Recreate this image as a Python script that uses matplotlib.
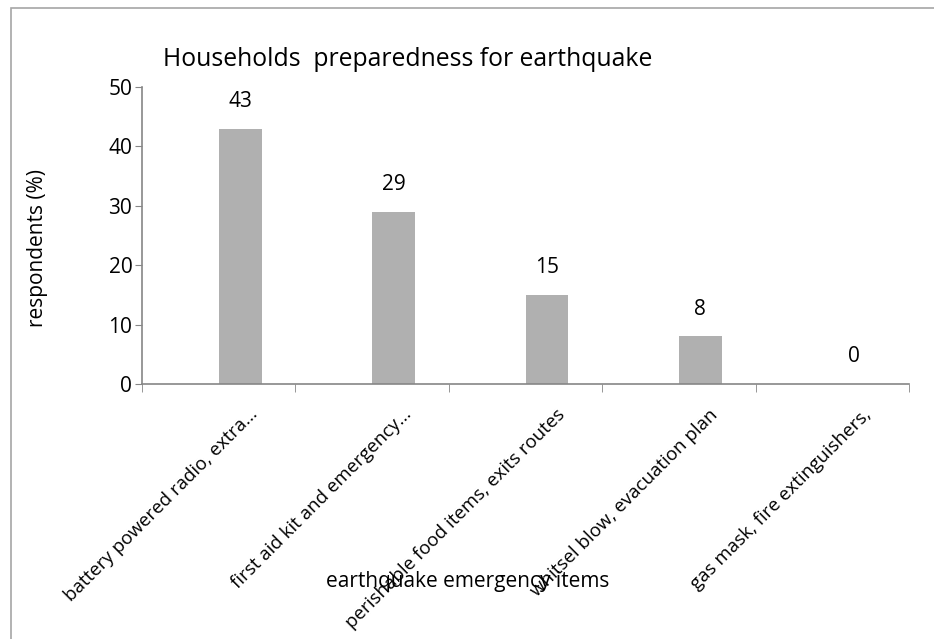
import matplotlib
matplotlib.use("Agg")
import matplotlib.pyplot as plt
from matplotlib.patches import Rectangle
from matplotlib.transforms import ScaledTranslation

categories = [
    "battery powered radio, extra...",
    "first aid kit and emergency...",
    "perishable food items, exits routes",
    "whitsel blow, evacuation plan",
    "gas mask, fire extinguishers,",
]
values = [43, 29, 15, 8, 0]

plt.rcParams["font.family"] = ["Open Sans", "DejaVu Sans"]
grey = "#868686"
fs_cat = 13.5
fs_num = 15

fig = plt.figure(figsize=(9.34, 6.39), dpi=100)
ax = fig.add_axes([142 / 934, 1 - 384 / 639, (909 - 142) / 934, (384 - 87) / 639])

# figure border (only left/top visible in the reference)
fig.patches.append(Rectangle((11 / 934, -0.1), 1.2, 1 - 8 / 639 + 0.1, transform=fig.transFigure,
                             fill=False, edgecolor="#a6a6a6", linewidth=1.2))

pos = list(range(len(values)))
ax.bar(pos, values, width=0.28, align="edge", color="#b0b0b0")
for i, v in enumerate(values):
    ax.annotate(str(v), (i + 0.14, v), xytext=(0, 12), textcoords="offset points",
                ha="center", va="bottom", fontsize=fs_num)

ax.set_xlim(-0.5, len(values) - 0.5)
ax.set_ylim(0, 50)
ax.set_yticks(range(0, 51, 10))

ax.set_xticks([p + 0.14 for p in pos])
ax.set_xticklabels(categories, rotation=45, ha="right", va="center", rotation_mode="anchor", fontsize=fs_cat)
ax.set_xticks([p - 0.5 for p in range(len(values) + 1)], minor=True)
ax.tick_params(axis="x", which="major", length=0, pad=20)
ax.tick_params(axis="x", which="minor", length=6, color=grey, direction="out")
ax.tick_params(axis="y", length=5, color=grey, labelsize=fs_num, pad=2)
for lab in ax.get_xticklabels():
    lab.set_transform(lab.get_transform() + ScaledTranslation(0.15, 0, fig.dpi_scale_trans))

for s in ["top", "right"]:
    ax.spines[s].set_visible(False)
for s in ["left", "bottom"]:
    ax.spines[s].set_color(grey)
    ax.spines[s].set_linewidth(1.2)

fig.text(163 / 934, 1 - 60 / 639, "Households  preparedness for earthquake", fontsize=17.8, va="center", ha="left")
fig.text(468 / 934, 1 - 582 / 639, "earthquake emergency items", fontsize=15, ha="center", va="center")
fig.text(38 / 934, 1 - 248 / 639, "respondents (%)", fontsize=15, rotation=90, ha="center", va="center")

fig.savefig("out.png", dpi=100)
